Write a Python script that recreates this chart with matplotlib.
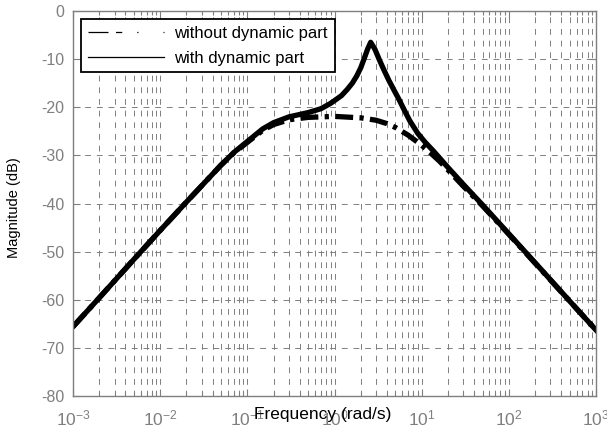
import matplotlib.pyplot as plt
from matplotlib.lines import Line2D
from matplotlib.ticker import LogLocator, NullFormatter

plt.rcParams['font.family'] = ['Liberation Sans', 'DejaVu Sans']
plt.rcParams['axes.unicode_minus'] = False

# frequency (rad/s) and magnitude (dB)
w_without = [0.001, 0.002, 0.005, 0.01, 0.02, 0.03, 0.05, 0.07, 0.1, 0.15, 0.2,
             0.3, 0.5, 1.0, 2.0, 3.0, 4.0, 5.0, 7.0, 10, 13, 16, 20, 30, 50,
             100, 200, 500, 1000]
mag_without = [-65.6, -59.6, -51.6, -45.6, -39.7, -36.3, -32.0, -29.5, -27.3, -24.8, -23.6,
               -22.6, -22.1, -21.9, -22.2, -22.7, -23.4, -24.2, -25.8, -27.9, -29.7, -31.2,
               -33.0, -36.4, -40.5, -46.4, -52.4, -60.3, -66.3]

w_with = [0.001, 0.002, 0.005, 0.01, 0.02, 0.03, 0.05, 0.07, 0.1, 0.15, 0.2, 0.3,
          0.5, 0.7, 0.9, 1.2, 1.4, 1.6, 1.8, 2.0, 2.2, 2.4, 2.6, 2.9, 3.3, 3.7, 4.2, 4.8,
          5.5, 6.2, 7.3, 9, 11, 13.5, 20, 30, 50, 100, 200, 500, 1000]
mag_with = [-65.6, -59.6, -51.6, -45.6, -39.7, -36.3, -32.0, -29.4, -27.1, -24.5, -23.2, -22.0,
            -21.1, -20.3, -19.2, -17.6, -16.3, -15.0, -13.5, -11.8, -9.8, -7.9, -6.5, -7.9,
            -10.3, -12.3, -14.4, -16.4, -18.4, -20.3, -22.8, -25.4, -27.3, -29.0, -32.5,
            -36.0, -40.3, -46.3, -52.3, -60.3, -66.3]

labels = ['without dynamic part', 'with dynamic part']
yticks = list(range(-80, 1, 10))

gray = '#7f7f7f'

fig = plt.figure(figsize=(6.07, 4.28), dpi=100)
ax = fig.add_axes([73 / 607, 1 - 396 / 428, 523 / 607, 385 / 428])

ax.semilogx(w_without, mag_without, color='k', lw=3.8,
            dashes=(3.4, 1.2, 0.8, 1.2), dash_capstyle='butt')
ax.semilogx(w_with, mag_with, color='k', lw=3.8)

ax.set_xlim(1e-3, 1e3)
ax.set_ylim(-80, 0)
ax.set_yticks(yticks)
ax.xaxis.set_major_locator(LogLocator(base=10, numticks=10))
ax.xaxis.set_minor_locator(LogLocator(base=10, subs=range(2, 10), numticks=20))
ax.xaxis.set_minor_formatter(NullFormatter())

ax.grid(which='major', color=gray, ls=(0, (6, 6)), lw=0.7)
ax.grid(which='minor', axis='x', color=gray, ls=(0, (6, 6)), lw=0.7)
ax.set_axisbelow(True)

ax.tick_params(which='both', direction='in', top=True, right=True,
               color=gray, labelcolor=gray)
ax.tick_params(which='major', length=5, width=0.8)
ax.tick_params(which='minor', length=3, width=0.8)
ax.tick_params(axis='x', pad=9, labelsize=12.5)
ax.tick_params(axis='y', pad=6, labelsize=11.5)
for s in ax.spines.values():
    s.set_color(gray)
    s.set_linewidth(1.0)

handles = [Line2D([], [], color='k', lw=0.9, dashes=(16, 6, 5, 12, 1, 20)),
           Line2D([], [], color='k', lw=0.9)]
leg = ax.legend(handles, labels, loc='upper left', bbox_to_anchor=(8 / 523, 1 - 8 / 385),
                borderaxespad=0, fancybox=False, framealpha=1, edgecolor='k',
                fontsize=12, handlelength=4.6, handletextpad=0.6,
                labelspacing=0.6, borderpad=0.4)
leg.get_frame().set_linewidth(1.3)

fig.text(323 / 607, 1 - 414 / 428, 'Frequency (rad/s)', ha='center', va='center', fontsize=12.5)
fig.text(14 / 607, 1 - 208 / 428, 'Magnitude (dB)', ha='center', va='center',
         rotation=90, fontsize=10.5)

fig.savefig('out.png', dpi=100)
